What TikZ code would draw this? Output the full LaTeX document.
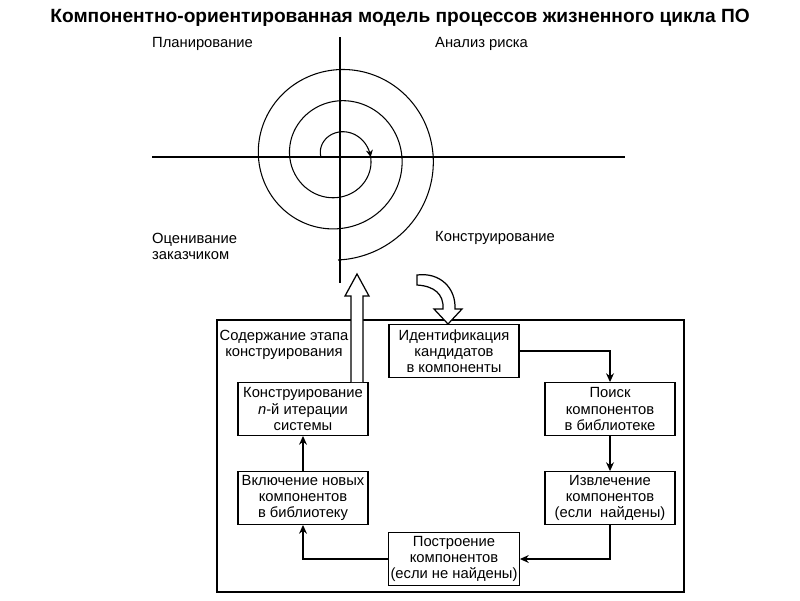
\documentclass[tikz,border=0pt]{standalone}
\usepackage{fontspec}
\setmainfont{Liberation Sans}
\usetikzlibrary{arrows.meta}

\begin{document}
\begin{tikzpicture}[x=0.02cm, y=-0.02cm,
  blok/.style = {draw, line width = 0.8pt, align = center,
                 minimum width = 2.6cm, minimum height = 1.05cm,
                 inner sep = 1pt, font = \fontsize{8.4}{9.2}\selectfont},
  metka/.style = {font = \fontsize{8.4}{9.2}\selectfont},
  strelka/.style = {-{Stealth[length = 5pt, width = 4.5pt]}, line width = 0.6pt},
  os/.style = {line width = 1.1pt}]
\useasboundingbox (0, 0) rectangle (800, 600);

\node[font = \bfseries\fontsize{10.9}{12}\selectfont] (title) at (400, 18)
  {Компонентно-ориентированная модель процессов жизненного цикла ПО};

\draw [os] (152, 157) -- (625, 157);
\draw [os] (340, 37) -- (340, 283);

\draw [line width = 0.6pt, ->, >={Stealth[length = 4pt, width = 4pt]}]
  plot[domain = 0:180, samples = 40, smooth]
  ({338 + (17 + 0.0869*\x)*cos(180 - \x)}, {157 - (17 + 0.0869*\x)*sin(180 - \x)});
\draw [line width = 0.6pt]
  plot[domain = 180:990, samples = 160, smooth]
  ({338 + (17 + 0.0869*\x)*cos(180 - \x)}, {157 - (17 + 0.0869*\x)*sin(180 - \x)});

\node[metka, anchor = west] (plan) at (146, 44) {Планирование};
\node[metka, anchor = west] (risk) at (429, 44) {Анализ риска};
\node[metka, anchor = west, align = left] (ocenka) at (146, 246) {Оценивание\\заказчиком};
\node[metka, anchor = west] (konstr) at (429, 238) {Конструирование};

\draw [line width = 0.8pt] (217, 320) rectangle (684, 592);
\node[metka, align = center] (soderzh) at (284, 345) {Содержание этапа\\конструирования};

\node[blok] (ident) at (454, 351) {Идентификация\\кандидатов\\в компоненты};
\node[blok] (poisk) at (610, 409) {Поиск\\компонентов\\в библиотеке};
\node[blok] (izvl)  at (610, 498) {Извлечение\\компонентов\\(если~~найдены)};
\node[blok] (postr) at (454, 559) {Построение\\компонентов\\(если не найдены)};
\node[blok] (vkl)   at (303, 498) {Включение новых\\компонентов\\в библиотеку};
\node[blok] (iter)  at (303, 409) {Конструирование\\\textit{n}-й итерации\\системы};

\draw [strelka] (ident.east) -| (poisk.north);
\draw [strelka] (poisk) -- (izvl);
\draw [strelka] (izvl.south) |- (postr.east);
\draw [strelka] (postr.west) -| (vkl.south);
\draw [strelka] (vkl) -- (iter);

\coordinate (vverh) at (357, 274);
\coordinate (hvostL) at (351, 296);
\coordinate (hvostR) at (363, 296);
\filldraw [fill = white, line width = 0.7pt]
  (iter.north -| hvostL) -- (hvostL) -- (345, 296) -- (vverh) --
  (369, 296) -- (hvostR) -- (iter.north -| hvostR);

\coordinate (vniz) at (448, 324);
\filldraw [fill = white, line width = 0.7pt]
  (417, 275) .. controls (440, 272) and (456, 288) .. (455, 309) --
  (462, 309) -- (vniz) -- (434, 309) -- (443, 309)
  .. controls (444, 294) and (434, 286) .. (417, 285) -- cycle;
\end{tikzpicture}
\end{document}
